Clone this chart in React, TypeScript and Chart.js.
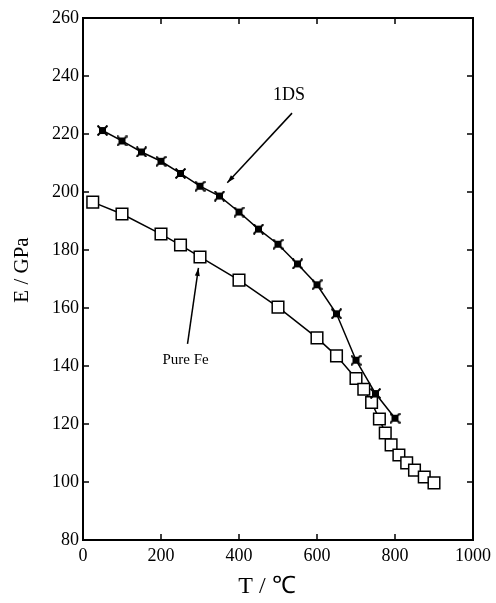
import React, { useEffect, useRef } from "react";
import { Chart, registerables } from "chart.js";

Chart.register(...registerables);

// ---- data ----
const temps1DS = [50, 100, 150, 200, 250, 300, 350, 400, 450, 500, 550, 600, 650, 700, 750, 800];
const modulus1DS = [221.2, 217.6, 213.8, 210.6, 206.4, 202, 198.6, 193.1, 187.2, 182, 175.2, 168, 158, 142, 130.5, 122];

const tempsFe = [25, 100, 200, 250, 300, 400, 500, 600, 650, 700, 720, 740, 760, 775, 790, 810, 830, 850, 875, 900];
const modulusFe = [196.5, 192.4, 185.5, 181.7, 177.6, 169.6, 160.3, 149.7, 143.5, 135.7, 132, 127.4, 121.7, 116.9, 112.8, 109.3, 106.6, 104.1, 101.7, 99.7];

const xTicks = [0, 200, 400, 600, 800, 1000];
const yTicks = [80, 100, 120, 140, 160, 180, 200, 220, 240, 260];

const xTitle = "T / ℃";
const yTitle = "E / GPa";
const label1DS = "1DS";
const labelFe = "Pure Fe";
// annotation anchors in data units: [textX, textY, arrowStartX, arrowStartY, arrowTipX, arrowTipY]
const note1DS = [528, 233.4, 536, 227.2, 370, 203.2];
const noteFe = [263, 142, 268, 147.6, 296, 173.8];

const SERIF = "'Liberation Serif', 'Times New Roman', serif";

function makeStarMarker(): HTMLCanvasElement {
  const c = document.createElement("canvas");
  c.width = 11;
  c.height = 11;
  const ctx = c.getContext("2d")!;
  ctx.fillStyle = "#000";
  ctx.fillRect(2, 2, 7, 7);
  ctx.strokeStyle = "#000";
  ctx.lineWidth = 2;
  ctx.beginPath();
  ctx.moveTo(0.5, 0.5);
  ctx.lineTo(10.5, 10.5);
  ctx.moveTo(10.5, 0.5);
  ctx.lineTo(0.5, 10.5);
  ctx.stroke();
  return c;
}

function drawArrow(ctx: CanvasRenderingContext2D, x0: number, y0: number, x1: number, y1: number) {
  ctx.beginPath();
  ctx.moveTo(x0, y0);
  ctx.lineTo(x1, y1);
  ctx.stroke();
  const ang = Math.atan2(y1 - y0, x1 - x0);
  const len = 8;
  const w = 2.5;
  ctx.beginPath();
  ctx.moveTo(x1, y1);
  ctx.lineTo(x1 - len * Math.cos(ang) + w * Math.sin(ang), y1 - len * Math.sin(ang) - w * Math.cos(ang));
  ctx.lineTo(x1 - len * Math.cos(ang) - w * Math.sin(ang), y1 - len * Math.sin(ang) + w * Math.cos(ang));
  ctx.closePath();
  ctx.fill();
}

const framePlugin = {
  id: "frameAndNotes",
  beforeDatasetsDraw(chart: any) {
    const { ctx, chartArea } = chart;
    const xs = chart.scales.x;
    const ys = chart.scales.y;
    const { left, right, top, bottom } = chartArea;
    ctx.save();
    ctx.strokeStyle = "#000";
    ctx.lineWidth = 2;
    ctx.strokeRect(left, top, right - left, bottom - top);
    ctx.lineWidth = 1.5;
    const tl = 6;
    ctx.beginPath();
    xTicks.forEach((v) => {
      const px = xs.getPixelForValue(v);
      ctx.moveTo(px, bottom);
      ctx.lineTo(px, bottom - tl);
      ctx.moveTo(px, top);
      ctx.lineTo(px, top + tl);
    });
    yTicks.forEach((v) => {
      const py = ys.getPixelForValue(v);
      ctx.moveTo(left, py);
      ctx.lineTo(left + tl, py);
      ctx.moveTo(right, py);
      ctx.lineTo(right - tl, py);
    });
    ctx.stroke();
    ctx.restore();
  },
  afterDraw(chart: any) {
    const { ctx, chartArea } = chart;
    const xs = chart.scales.x;
    const ys = chart.scales.y;
    ctx.save();
    ctx.fillStyle = "#000";
    ctx.strokeStyle = "#000";
    ctx.lineWidth = 1.5;
    ctx.textAlign = "center";
    ctx.textBaseline = "middle";
    ctx.font = `18px ${SERIF}`;
    ctx.fillText(label1DS, xs.getPixelForValue(note1DS[0]), ys.getPixelForValue(note1DS[1]));
    drawArrow(
      ctx,
      xs.getPixelForValue(note1DS[2]),
      ys.getPixelForValue(note1DS[3]),
      xs.getPixelForValue(note1DS[4]),
      ys.getPixelForValue(note1DS[5])
    );
    ctx.font = `15px ${SERIF}`;
    ctx.fillText(labelFe, xs.getPixelForValue(noteFe[0]), ys.getPixelForValue(noteFe[1]));
    drawArrow(
      ctx,
      xs.getPixelForValue(noteFe[2]),
      ys.getPixelForValue(noteFe[3]),
      xs.getPixelForValue(noteFe[4]),
      ys.getPixelForValue(noteFe[5])
    );
    const cx = (chartArea.left + chartArea.right) / 2 - 11;
    ctx.font = `24px ${SERIF}`;
    ctx.fillText(xTitle, cx, chartArea.bottom + 47);
    ctx.save();
    ctx.translate(22, (chartArea.top + chartArea.bottom) / 2 - 9);
    ctx.rotate(-Math.PI / 2);
    ctx.font = `21px ${SERIF}`;
    ctx.fillText(yTitle, 0, 0);
    ctx.restore();
    ctx.restore();
  },
};

export default function App() {
  const canvasRef = useRef<HTMLCanvasElement | null>(null);

  useEffect(() => {
    document.body.style.margin = "0";
    const canvas = canvasRef.current;
    if (!canvas) return;
    const star = makeStarMarker();
    const chart = new Chart(canvas, {
      type: "line",
      data: {
        datasets: [
          {
            label: label1DS,
            data: temps1DS.map((t, i) => ({ x: t, y: modulus1DS[i] })),
            borderColor: "#000",
            borderWidth: 1.5,
            pointStyle: star as any,
            pointRadius: 5,
            tension: 0,
            fill: false,
          },
          {
            label: labelFe,
            data: tempsFe.map((t, i) => ({ x: t, y: modulusFe[i] })),
            borderColor: "#000",
            borderWidth: 1.5,
            pointStyle: "rect",
            pointRadius: 8.2,
            pointBackgroundColor: "#fff",
            pointBorderColor: "#000",
            pointBorderWidth: 1.5,
            tension: 0,
            fill: false,
          },
        ],
      },
      options: {
        responsive: false,
        animation: false,
        layout: { padding: { top: 18, right: 19, left: 0, bottom: 0 } },
        plugins: { legend: { display: false }, tooltip: { enabled: false } },
        scales: {
          x: {
            type: "linear",
            min: 0,
            max: 1000,
            afterBuildTicks: (s: any) => {
              s.ticks = xTicks.map((v) => ({ value: v }));
            },
            ticks: {
              color: "#000",
              font: { family: SERIF, size: 18 },
              padding: 5,
              maxRotation: 0,
              autoSkip: false,
              callback: (v: any) => String(v),
            },
            grid: { display: false, drawTicks: false },
            border: { display: false },
            afterFit: (s: any) => {
              s.height = 63;
            },
          },
          y: {
            type: "linear",
            min: 80,
            max: 260,
            afterBuildTicks: (s: any) => {
              s.ticks = yTicks.map((v) => ({ value: v }));
            },
            ticks: {
              color: "#000",
              font: { family: SERIF, size: 18 },
              padding: 4,
              autoSkip: false,
              callback: (v: any) => String(v),
            },
            grid: { display: false, drawTicks: false },
            border: { display: false },
            afterFit: (s: any) => {
              s.width = 83;
            },
          },
        },
      },
      plugins: [framePlugin],
    });
    return () => chart.destroy();
  }, []);

  return (
    <div style={{ position: "absolute", left: 0, top: 0, width: 496, height: 603, background: "#fff" }}>
      <canvas ref={canvasRef} width={496} height={603} />
    </div>
  );
}
